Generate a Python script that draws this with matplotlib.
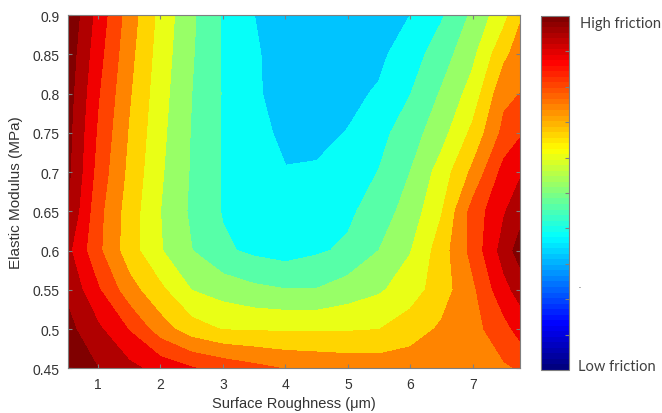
import numpy as np
import matplotlib
matplotlib.use('Agg')
import matplotlib.pyplot as plt
from matplotlib.colors import LinearSegmentedColormap, Normalize
from matplotlib.cm import ScalarMappable

plt.rcParams['font.family'] = ['Liberation Sans', 'DejaVu Sans']

# surface roughness (um) and elastic modulus (MPa) grid
roughness = [0.52, 1.0, 1.5, 2.0, 2.5, 3.0, 3.5, 4.0, 4.5, 5.0, 5.5, 6.0, 6.5, 7.0, 7.5, 7.75]
modulus = [0.45, 0.5, 0.55, 0.6, 0.65, 0.7, 0.75, 0.8, 0.85, 0.9]

# normalised friction, one row per modulus value
friction = np.array([
    [1.03, 0.98, 0.928, 0.884, 0.844, 0.816, 0.789, 0.765, 0.755, 0.745, 0.74, 0.74, 0.745, 0.75, 0.76, 0.775],
    [1.00, 0.923, 0.835, 0.732, 0.66, 0.625, 0.622, 0.62, 0.62, 0.622, 0.628, 0.666, 0.71, 0.745, 0.815, 0.865],
    [0.965, 0.848, 0.728, 0.645, 0.558, 0.53, 0.505, 0.492, 0.492, 0.522, 0.55, 0.595, 0.667, 0.755, 0.888, 0.935],
    [0.925, 0.785, 0.661, 0.565, 0.491, 0.431, 0.405, 0.39, 0.41, 0.432, 0.49, 0.556, 0.665, 0.793, 0.94, 1.01],
    [0.975, 0.792, 0.666, 0.56, 0.477, 0.415, 0.39, 0.37, 0.375, 0.405, 0.456, 0.518, 0.625, 0.796, 0.904, 0.95],
    [0.995, 0.814, 0.681, 0.569, 0.482, 0.414, 0.39, 0.353, 0.356, 0.385, 0.422, 0.49, 0.59, 0.715, 0.865, 0.90],
    [1.00, 0.83, 0.693, 0.578, 0.485, 0.415, 0.371, 0.335, 0.335, 0.352, 0.398, 0.457, 0.533, 0.647, 0.79, 0.83],
    [1.01, 0.846, 0.707, 0.587, 0.49, 0.415, 0.357, 0.33, 0.32, 0.335, 0.357, 0.418, 0.497, 0.589, 0.752, 0.77],
    [1.022, 0.865, 0.721, 0.597, 0.496, 0.414, 0.358, 0.32, 0.31, 0.31, 0.335, 0.387, 0.456, 0.543, 0.684, 0.73],
    [1.04, 0.883, 0.736, 0.607, 0.502, 0.413, 0.35, 0.31, 0.30, 0.30, 0.31, 0.35, 0.412, 0.503, 0.607, 0.69],
])

levels = [0.0, 0.35, 0.42, 0.49, 0.56, 0.63, 0.70, 0.77, 0.84, 0.91, 0.98, 1.2]

xticks = [1, 2, 3, 4, 5, 6, 7]
yticks = [0.45, 0.5, 0.55, 0.6, 0.65, 0.7, 0.75, 0.8, 0.85, 0.9]
ytick_labels = ['0.45', '0.5', '0.55', '0.6', '0.65', '0.7', '0.75', '0.8', '0.85', '0.9']

# matlab style jet, 64 steps
jet = LinearSegmentedColormap.from_list(
    'matlab_jet',
    [(0, (0, 0, 0.5)), (0.125, (0, 0, 1)), (0.375, (0, 1, 1)),
     (0.625, (1, 1, 0)), (0.875, (1, 0, 0)), (1, (0.5, 0, 0))], N=64)
band_vals = np.clip(np.array(levels[1:]) - 0.035, 0, 1)
band_colors = [jet(v) for v in band_vals]

txt = '#333333'
frame = '#7f7f7f'

fig = plt.figure(figsize=(6.62, 4.14), dpi=100)
ax = fig.add_axes([0.1023, 0.108, 0.683, 0.853])

X, Y = np.meshgrid(roughness, modulus)
cs = ax.contourf(X, Y, friction, levels=levels, colors=band_colors)
cs.set_edgecolor('face')
cs.set_linewidth(0.4)

ax.set_xlim(roughness[0], roughness[-1])
ax.set_ylim(modulus[0], modulus[-1])
ax.set_xticks(xticks)
ax.set_yticks(yticks)
ax.set_yticklabels(ytick_labels)
ax.tick_params(direction='in', length=3, top=True, right=True, color=frame,
               labelcolor=txt, labelsize=10, pad=6)
for s in ax.spines.values():
    s.set_color(frame)
    s.set_linewidth(0.8)

ax.set_xlabel('Surface Roughness (μm)', fontsize=10.5, color=txt, labelpad=4)
ax.set_ylabel('Elastic Modulus (MPa)', fontsize=11, color=txt, labelpad=7)

# colour bar
cax = fig.add_axes([0.817, 0.104, 0.0423, 0.855])
cb = fig.colorbar(ScalarMappable(norm=Normalize(0, 1), cmap=jet), cax=cax)
cb.set_ticks(np.linspace(0.1, 0.9, 9))
cb.ax.tick_params(direction='in', length=3, labelright=False, color=frame)
cb.outline.set_edgecolor(frame)
cb.outline.set_linewidth(0.8)

fig.text(580 / 662, 1 - 24 / 414, 'High friction', ha='left', va='center',
         fontsize=10.5, color='#404040', family='Lato')
fig.text(578 / 662, 1 - 367 / 414, 'Low friction', ha='left', va='center',
         fontsize=10.5, color='#404040', family='Lato')
fig.text(579 / 662, 1 - 286 / 414, '.', ha='left', va='center',
         fontsize=6, color='#404040', family='Lato')

fig.savefig('out.png', dpi=100)
